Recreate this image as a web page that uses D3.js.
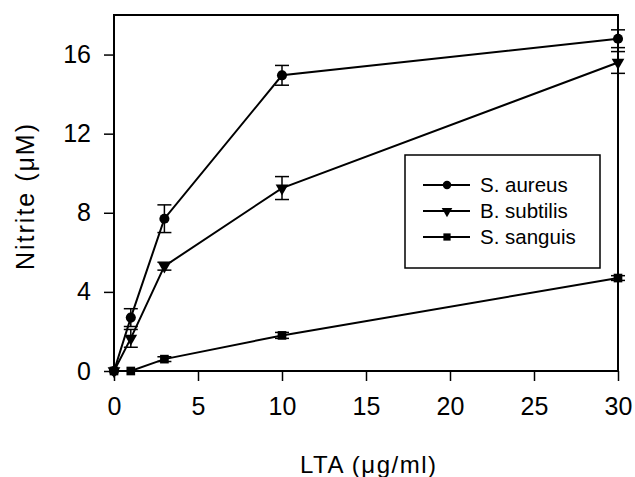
<!DOCTYPE html>
<html><head><meta charset="utf-8">
<script src="https://cdn.jsdelivr.net/npm/d3@7"></script>
<style>body{margin:0;background:#fff}svg{display:block}text{font-family:"Liberation Sans",Arial,sans-serif;fill:#000}</style>
</head><body><svg id="c" width="635" height="477"></svg>
<script>
const doses = [0, 1, 3, 10, 30];
const seriesNames = ["S. aureus", "B. subtilis", "S. sanguis"];
const aureus = [0, 2.7, 7.7, 14.95, 16.8];
const aureusErr = [0, 0.45, 0.7, 0.5, 0.45];
const subtilis = [0, 1.65, 5.3, 9.25, 15.6];
const subtilisErr = [0, 0.45, 0.2, 0.58, 0.55];
const sanguis = [0, 0, 0.6, 1.8, 4.7];
const sanguisErr = [0, 0, 0.12, 0.15, 0.12];
const xTicks = [0, 5, 10, 15, 20, 25, 30];
const yTicks = [0, 4, 8, 12, 16];

const svg = d3.select("#c");
const x = d3.scaleLinear().domain([0, 30]).range([114, 618]);
const y = d3.scaleLinear().domain([0, 18]).range([371, 15]);

const series = [
  {name: seriesNames[0], v: aureus, e: aureusErr, sym: d3.symbolCircle, size: 80},
  {name: seriesNames[1], v: subtilis, e: subtilisErr, sym: d3.symbolTriangle, size: 70, rot: 180},
  {name: seriesNames[2], v: sanguis, e: sanguisErr, sym: d3.symbolSquare, size: 75}
];

// axes
const xa = svg.append("g").attr("transform", "translate(0,371)")
  .call(d3.axisBottom(x).tickValues(xTicks).tickSize(10).tickPadding(16));
const ya = svg.append("g").attr("transform", "translate(114,0)")
  .call(d3.axisLeft(y).tickValues(yTicks).tickSize(10).tickPadding(13));
[xa, ya].forEach(a => {
  a.select(".domain").remove();
  a.selectAll(".tick line").attr("stroke", "#000").attr("stroke-width", 1.5);
  a.selectAll(".tick text").attr("font-size", 25).attr("fill", "#000");
});
// frame
svg.append("rect").attr("x", x(0)).attr("y", y(18)).attr("width", x(30) - x(0)).attr("height", y(0) - y(18))
  .attr("fill", "none").attr("stroke", "#000").attr("stroke-width", 2);

// titles
svg.append("text").attr("x", 368).attr("y", 473).attr("text-anchor", "middle").attr("font-size", 24)
  .attr("textLength", 136).attr("lengthAdjust", "spacing").text("LTA (μg/ml)");
svg.append("text").attr("transform", "translate(34,197) rotate(-90)").attr("text-anchor", "middle").attr("font-size", 25)
  .attr("textLength", 146).attr("lengthAdjust", "spacing").text("Nitrite (μM)");

const line = d3.line().x((d, i) => x(doses[i])).y(d => y(d));
series.forEach(s => {
  const g = svg.append("g");
  g.append("path").attr("d", line(s.v)).attr("fill", "none").attr("stroke", "#000").attr("stroke-width", 2);
  s.v.forEach((v, i) => {
    const e = s.e[i];
    if (e > 0) {
      const cx = x(doses[i]);
      g.append("line").attr("x1", cx).attr("x2", cx).attr("y1", y(v - e)).attr("y2", y(v + e)).attr("stroke", "#000").attr("stroke-width", 1.5);
      [v - e, v + e].forEach(t => g.append("line").attr("x1", cx - 7).attr("x2", cx + 7).attr("y1", y(t)).attr("y2", y(t)).attr("stroke", "#000").attr("stroke-width", 1.5));
    }
    g.append("path").attr("d", d3.symbol(s.sym, s.size)())
      .attr("transform", `translate(${x(doses[i])},${y(v)}) rotate(${s.rot || 0})`).attr("fill", "#000");
  });
});

// legend
const lg = svg.append("g");
lg.append("rect").attr("x", 405).attr("y", 155).attr("width", 195).attr("height", 113).attr("fill", "#fff").attr("stroke", "#000").attr("stroke-width", 1.5);
series.forEach((s, i) => {
  const yy = 185 + i * 26;
  lg.append("line").attr("x1", 423).attr("x2", 470).attr("y1", yy).attr("y2", yy).attr("stroke", "#000").attr("stroke-width", 2);
  lg.append("path").attr("d", d3.symbol(s.sym, s.size * 0.7)()).attr("transform", `translate(447,${yy}) rotate(${s.rot || 0})`).attr("fill", "#000");
  lg.append("text").attr("x", 480).attr("y", yy).attr("dy", "0.35em").attr("font-size", 20.5).text(s.name);
});
</script></body></html>
